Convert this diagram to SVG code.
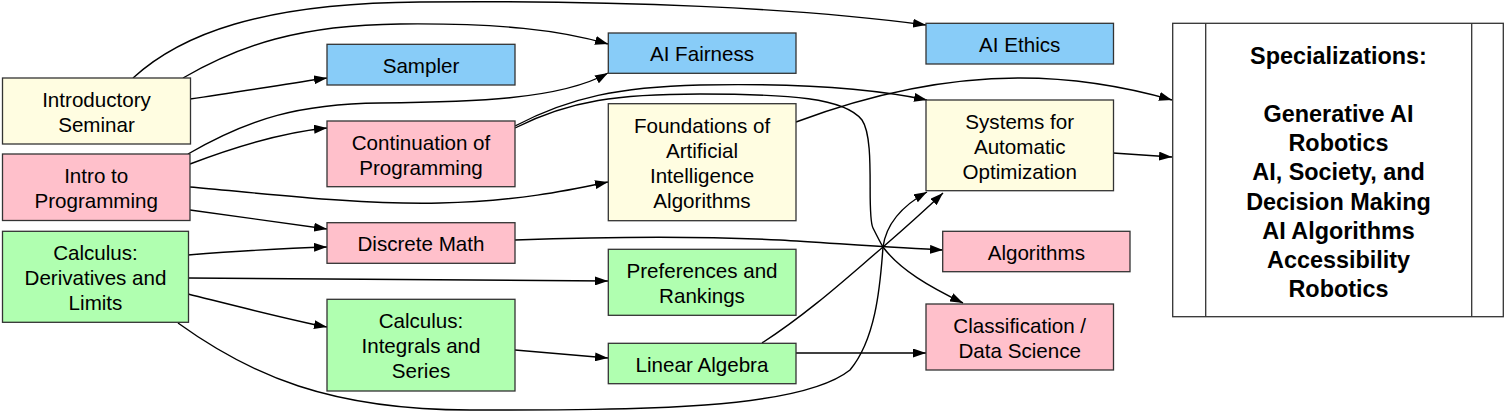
<svg xmlns="http://www.w3.org/2000/svg" width="1506" height="411" viewBox="0 0 1506 411">
<defs>
<marker id="arr" viewBox="0 0 13 9" refX="13" refY="4.5" markerWidth="13" markerHeight="9" markerUnits="userSpaceOnUse" orient="auto">
<path d="M0,0 L13,4.5 L0,9 z" fill="#000"/>
</marker>
<style>
.box{stroke:#333;stroke-width:1.3}
.y{fill:#fffde1}.p{fill:#ffc0cb}.b{fill:#88ccf8}.g{fill:#b0ffb0}
text{font-family:"Liberation Sans",Arial,Helvetica,sans-serif;font-size:20.6px;fill:#000;text-anchor:middle}
.spec text{font-weight:bold;font-size:23.4px}
.edges path{fill:none;stroke:#000;stroke-width:1.4;marker-end:url(#arr)}
</style>
</defs>
<rect width="1506" height="411" fill="#fff"/>

<g class="edges" id="connectors">
<path d="M133,78 C180,35 260,3 420,2 C620,0 800,8 926,25"/>
<path d="M183,78 C240,45 300,25 400,24 C500,23 560,30 608,44"/>
<path d="M190,99 C240,92 285,84 327,78"/>
<path d="M188,154 C250,118 300,104 380,103 C470,102 560,100 608,73"/>
<path d="M190,164 C240,145 285,132 327,128"/>
<path d="M190,187 C260,193 360,205 440,203 C520,201 570,190 608,182"/>
<path d="M190,210 L327,229"/>
<path d="M188,255 C240,251 290,248 327,247"/>
<path d="M188,278 C300,278 450,280 608,281"/>
<path d="M188,294 C240,307 290,320 327,327"/>
<path d="M178,323 C250,375 330,410 470,410 C640,410 800,410 850,370 C875,340 880,290 883,247 C886,225 900,207 927,192"/>
<path d="M515,126 C570,97 620,87 700,85 C800,83 870,88 927,100"/>
<path d="M515,128 C570,100 620,94 700,94 C790,94 845,98 862,120 C876,140 866,215 873,228 C878,238 880,242 883,247 C900,270 930,287 963,303"/>
<path d="M515,240 C600,237 700,236 780,240 C830,243 900,248 943,250"/>
<path d="M515,350 L608,358"/>
<path d="M796,353 L926,353"/>
<path d="M762,343 C810,312 850,275 883,247 C905,228 925,210 943,193"/>
<path d="M796,122 C860,98 940,78 1020,78 C1080,78 1130,88 1172,100"/>
<path d="M1113,153 L1172,157"/>
</g>

<g id="introductory_seminar"><rect class="box y" x="2.5" y="78" width="188" height="66"/><text x="96.5" y="106.5">Introductory</text><text x="96.5" y="131.5">Seminar</text></g>
<g id="intro_to_programming"><rect class="box p" x="2.5" y="154" width="187.5" height="66.5"/><text x="96.2" y="182.8">Intro to</text><text x="96.2" y="207.8">Programming</text></g>
<g id="calculus_derivatives"><rect class="box g" x="2.5" y="231.3" width="186" height="91"/><text x="95.5" y="259.8">Calculus:</text><text x="95.5" y="284.8">Derivatives and</text><text x="95.5" y="309.8">Limits</text></g>

<g id="sampler"><rect class="box b" x="327" y="44.3" width="188" height="40.7"/><text x="421" y="72.6">Sampler</text></g>
<g id="continuation_of_programming"><rect class="box p" x="327" y="121" width="188" height="65.7"/><text x="421" y="149.6">Continuation of</text><text x="421" y="174.6">Programming</text></g>
<g id="discrete_math"><rect class="box p" x="327" y="222.7" width="188" height="40.6"/><text x="421" y="251.2">Discrete Math</text></g>
<g id="calculus_integrals"><rect class="box g" x="327" y="299.3" width="188" height="91.7"/><text x="421" y="328.3">Calculus:</text><text x="421" y="353.3">Integrals and</text><text x="421" y="378.3">Series</text></g>

<g id="ai_fairness"><rect class="box b" x="608.3" y="33" width="187.7" height="40.3"/><text x="702" y="61.4">AI Fairness</text></g>
<g id="foundations_ai"><rect class="box y" x="608.3" y="103.7" width="187.7" height="117"/><text x="702" y="132.8">Foundations of</text><text x="702" y="157.8">Artificial</text><text x="702" y="182.8">Intelligence</text><text x="702" y="207.8">Algorithms</text></g>
<g id="preferences_rankings"><rect class="box g" x="608.3" y="249.3" width="187.7" height="66"/><text x="702" y="277.8">Preferences and</text><text x="702" y="302.8">Rankings</text></g>
<g id="linear_algebra"><rect class="box g" x="608.3" y="343.3" width="187.7" height="40.4"/><text x="702" y="371.6">Linear Algebra</text></g>

<g id="ai_ethics"><rect class="box b" x="926" y="23.3" width="187.5" height="40.7"/><text x="1019.7" y="51.8">AI Ethics</text></g>
<g id="systems_optimization"><rect class="box y" x="926" y="100" width="187.5" height="90.7"/><text x="1019.7" y="128.6">Systems for</text><text x="1019.7" y="153.6">Automatic</text><text x="1019.7" y="178.6">Optimization</text></g>
<g id="algorithms"><rect class="box p" x="942.7" y="231.3" width="187.3" height="40.4"/><text x="1036.3" y="259.6">Algorithms</text></g>
<g id="classification"><rect class="box p" x="926" y="304" width="187.5" height="66"/><text x="1019.7" y="332.7">Classification /</text><text x="1019.7" y="357.7">Data Science</text></g>

<g id="specializations" class="spec">
<rect x="1172.7" y="23.3" width="330.6" height="293.4" fill="#fff" stroke="#333" stroke-width="1.3"/>
<line x1="1205.7" y1="23.3" x2="1205.7" y2="316.7" stroke="#333" stroke-width="1.3"/>
<line x1="1471.7" y1="23.3" x2="1471.7" y2="316.7" stroke="#333" stroke-width="1.3"/>
<text x="1338.5" y="63.5">Specializations:</text>
<text x="1338.5" y="121.9">Generative AI</text>
<text x="1338.5" y="151.1">Robotics</text>
<text x="1338.5" y="180.3">AI, Society, and</text>
<text x="1338.5" y="209.5">Decision Making</text>
<text x="1338.5" y="238.7">AI Algorithms</text>
<text x="1338.5" y="267.9">Accessibility</text>
<text x="1338.5" y="297.1">Robotics</text>
</g>
</svg>
